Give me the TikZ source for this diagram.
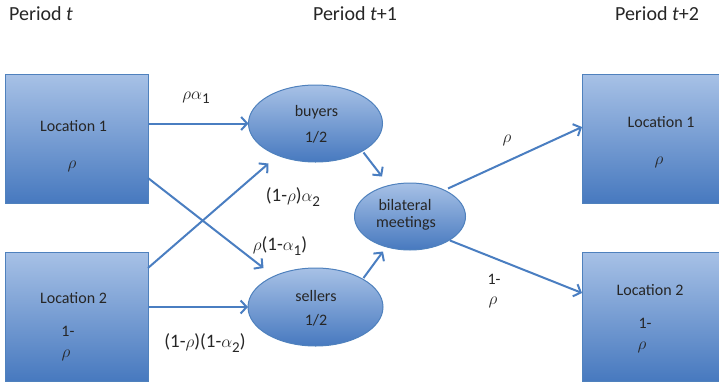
\documentclass[tikz,border=0pt]{standalone}
\usepackage{fontspec}
\setmainfont{Carlito}
\usetikzlibrary{arrows.meta,calc,shapes.geometric}
\definecolor{boxtop}{HTML}{A7C1E6}
\definecolor{boxbot}{HTML}{4779BF}
\definecolor{edgec}{HTML}{4F81BD}
\definecolor{arrc}{HTML}{4A7EC1}
\definecolor{txtc}{HTML}{262626}
\newcommand{\subs}[1]{\raisebox{-0.5ex}{\fontsize{15}{16}\selectfont #1}}
\begin{document}
\begin{tikzpicture}[x=1pt,y=-1pt,
  locbox/.style={draw=edgec, line width=1pt, top color=boxtop, bottom color=boxbot,
    minimum width=143pt, minimum height=129pt, inner sep=0pt, outer sep=0pt},
  rlocbox/.style={locbox, minimum width=139pt},
  oval/.style={ellipse, draw=edgec, line width=1pt, top color=boxtop, bottom color=boxbot,
    inner sep=0pt, outer sep=0pt},
  flow/.style={draw=arrc, line width=2pt, -{Straight Barb[length=6pt,width=13pt]}},
  lbl/.style={text=txtc, font=\fontsize{19}{21}\selectfont, inner sep=0pt},
  boxtxt/.style={text=txtc, font=\fontsize{16}{18}\selectfont, inner sep=0pt},
  small/.style={text=txtc, font=\fontsize{16}{17}\selectfont, inner sep=0pt},
  ttl/.style={text=txtc, font=\fontsize{20}{22}\selectfont, inner sep=0pt}
]
\useasboundingbox (0,0) rectangle (719,383);

% titles
\node[ttl] (T0) at (41,14) {Period \textit{t}};
\node[ttl] (T1) at (355,14) {Period \textit{t}+1};
\node[ttl] (T2) at (657,14) {Period \textit{t}+2};

% boxes
\node[locbox] (L1) at (76.5,138.5) {};
\node[locbox] (L2) at (76.5,316.5) {};
\begin{scope}
\clip (0,0) rectangle (719,383);
\node[rlocbox] (R1) at (651.5,138.5) {};
\node[rlocbox] (R2) at (651.5,316.5) {};
\end{scope}

% ellipses
\node[oval, minimum width=134pt, minimum height=77pt] (buy) at (315.5,123.5) {};
\node[oval, minimum width=135pt, minimum height=78pt] (sel) at (315.5,307) {};
\node[oval, minimum width=111pt, minimum height=67pt] (bil) at (410,216.5) {};

% box texts
\node[boxtxt] (L1a) at (73.5,126) {Location 1};
\node[small] (L1b) at (72,166) {$\rho$};
\node[boxtxt] (L2a) at (73.5,298) {Location 2};
\node[small] (L2b) at (68,331) {1-};
\node[small] (L2c) at (66,355) {$\rho$};
\node[boxtxt] (R1a) at (661,122.5) {Location 1};
\node[small] (R1b) at (659,162) {$\rho$};
\node[boxtxt] (R2a) at (650,290) {Location 2};
\node[small] (R2b) at (645,323.5) {1-};
\node[small] (R2c) at (642,347) {$\rho$};

% ellipse texts
\node[boxtxt] (ba) at (316.5,112) {buyers};
\node[boxtxt] (bb) at (316,137.5) {1/2};
\node[boxtxt] (sa) at (316,296) {sellers};
\node[boxtxt] (sb) at (316,320) {1/2};
\node[boxtxt] (ma) at (405,205) {bilateral};
\node[boxtxt] (mb) at (406,223) {meetings};

% arrows
\draw[flow] (L1.east |- buy.west) -- (buy.west);
\draw[flow] ($(L1.east)+(0,39.5)$) -- ($(sel.center)+(-52,-39)$);
\draw[flow] ($(L2.east)+(0,-48.5)$) -- ($(buy.center)+(-47,40)$);
\draw[flow] (L2.east |- sel.west) -- (sel.west);
\draw[flow] ($(buy.center)+(48,29)$) -- ($(bil.center)+(-28,-40)$);
\draw[flow] ($(sel.center)+(48,-29)$) -- ($(bil.center)+(-27,35)$);
\draw[flow] ($(bil.center)+(38,-28)$) -- ($(R1.west)+(0,-11.5)$);
\draw[flow] ($(bil.center)+(40,24)$) -- ($(R2.west)+(0,-23.5)$);

% flow labels
\node[lbl] (f1) at (196,98) {$\rho\alpha$\subs{1}};
\node[lbl] (f2) at (293,197) {(1-$\rho$)$\alpha$\subs{2}};
\node[lbl] (f3) at (280,246) {$\rho$(1-$\alpha$\subs{1})};
\node[lbl] (f4) at (205,343) {(1-$\rho$)(1-$\alpha$\subs{2})};
\node[small] (f5) at (507,140) {$\rho$};
\node[small] (f6) at (494,279) {1-};
\node[small] (f7) at (493,302) {$\rho$};
\end{tikzpicture}
\end{document}
